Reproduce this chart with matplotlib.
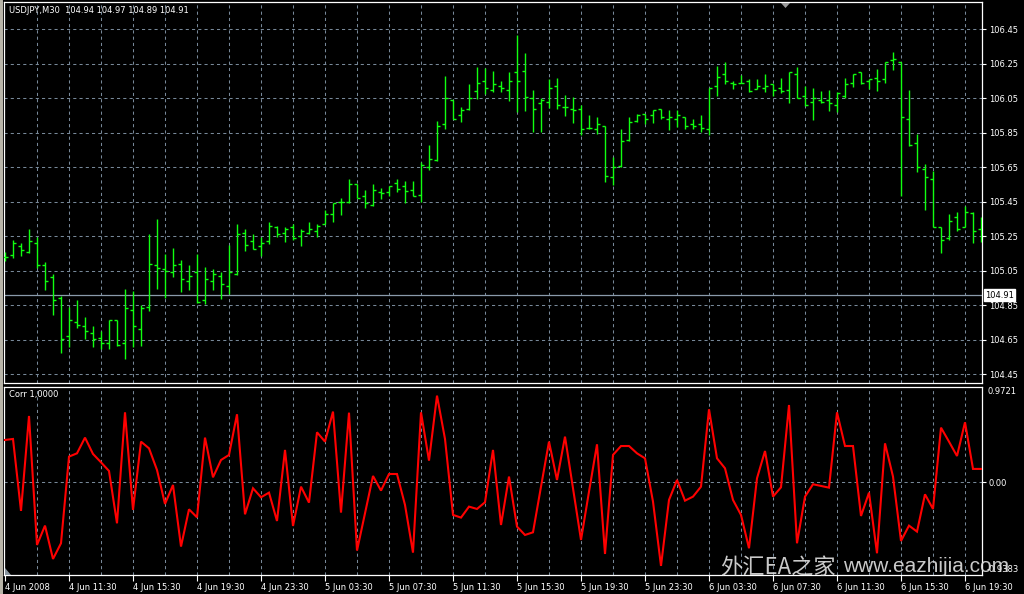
import matplotlib
matplotlib.use("Agg")
import matplotlib.pyplot as plt
from matplotlib.patches import Rectangle, Polygon
import numpy as np

# ---------------- data ----------------
opens = [105.130, 105.139, 105.195, 105.156, 105.208, 105.081, 105.011, 104.891, 104.670, 104.750,
         104.729, 104.686, 104.657, 104.628, 104.766, 104.628, 104.819, 104.709, 104.837, 105.081,
         105.057, 105.040, 105.086, 104.990, 105.040, 104.877, 104.990, 105.017, 104.959, 105.028,
         105.266, 105.220, 105.191, 105.220, 105.301, 105.266, 105.301, 105.249, 105.266, 105.278,
         105.318, 105.376, 105.446, 105.446, 105.551, 105.483, 105.431, 105.508, 105.508, 105.556,
         105.541, 105.516, 105.489, 105.649, 105.690, 105.899, 106.040, 105.951, 105.986, 106.092,
         106.148, 106.096, 106.119, 106.096, 106.200, 106.206, 106.050, 106.021, 106.026, 106.119,
         105.997, 105.986, 105.986, 105.876, 105.870, 105.887, 105.591, 105.659, 105.806, 105.916,
         105.957, 105.951, 105.988, 105.928, 105.928, 105.939, 105.899, 105.899, 105.870, 106.119,
         106.191, 106.139, 106.137, 106.148, 106.106, 106.108, 106.131, 106.108, 106.096, 106.189,
         106.065, 106.026, 106.038, 106.038, 106.009, 106.061, 106.139, 106.200, 106.148, 106.166,
         106.160, 106.270, 106.259, 105.928, 105.788, 105.638, 105.580, 105.305, 105.237, 105.359,
         105.301, 105.386, 105.289]
highs = [105.156, 105.228, 105.208, 105.291, 105.243, 105.098, 105.028, 104.903, 104.837, 104.879,
         104.781, 104.729, 104.700, 104.766, 104.766, 104.943, 104.932, 104.850, 105.260, 105.347,
         105.144, 105.181, 105.112, 105.082, 105.144, 105.069, 105.059, 105.040, 105.200, 105.320,
         105.291, 105.260, 105.247, 105.332, 105.309, 105.303, 105.318, 105.289, 105.332, 105.318,
         105.402, 105.442, 105.471, 105.580, 105.554, 105.518, 105.553, 105.527, 105.543, 105.580,
         105.568, 105.568, 105.678, 105.777, 105.916, 106.179, 106.040, 105.997, 106.133, 106.231,
         106.224, 106.208, 106.150, 106.202, 106.417, 106.313, 106.098, 106.050, 106.160, 106.166,
         106.067, 106.055, 106.009, 105.951, 105.939, 105.887, 105.709, 105.872, 105.939, 105.957,
         105.957, 105.980, 105.988, 105.982, 105.982, 105.939, 105.930, 105.953, 106.112, 106.235,
         106.259, 106.150, 106.187, 106.160, 106.160, 106.191, 106.133, 106.166, 106.200, 106.231,
         106.119, 106.108, 106.092, 106.098, 106.084, 106.166, 106.189, 106.204, 106.162, 106.218,
         106.259, 106.317, 106.259, 106.098, 105.845, 105.669, 105.630, 105.305, 105.376, 105.388,
         105.423, 105.388, 105.361]
lows = [105.108, 105.125, 105.137, 105.150, 105.063, 104.937, 104.792, 104.570, 104.609, 104.717,
        104.653, 104.609, 104.597, 104.597, 104.614, 104.539, 104.609, 104.614, 104.818, 104.941,
        104.889, 105.015, 104.928, 104.937, 104.860, 104.856, 104.937, 104.887, 104.916, 105.026,
        105.166, 105.177, 105.137, 105.206, 105.247, 105.218, 105.226, 105.195, 105.260, 105.247,
        105.318, 105.334, 105.373, 105.440, 105.469, 105.415, 105.427, 105.467, 105.485, 105.508,
        105.444, 105.481, 105.450, 105.636, 105.688, 105.872, 105.928, 105.914, 105.980, 106.048,
        106.073, 106.088, 106.088, 106.036, 105.968, 105.978, 105.856, 105.856, 105.995, 105.986,
        105.949, 105.908, 105.837, 105.874, 105.845, 105.566, 105.549, 105.649, 105.804, 105.910,
        105.901, 105.908, 105.928, 105.866, 105.885, 105.872, 105.872, 105.856, 105.837, 106.063,
        106.135, 106.104, 106.137, 106.088, 106.104, 106.088, 106.065, 106.079, 106.024, 106.052,
        106.005, 105.926, 106.021, 105.978, 105.968, 106.050, 106.117, 106.131, 106.106, 106.094,
        106.137, 106.216, 105.483, 105.775, 105.624, 105.404, 105.303, 105.150, 105.226, 105.278,
        105.301, 105.208, 105.218]
closes = [105.127, 105.208, 105.168, 105.220, 105.084, 104.988, 104.877, 104.655, 104.761, 104.736,
          104.698, 104.651, 104.628, 104.763, 104.616, 104.831, 104.729, 104.831, 105.086, 105.063,
          105.050, 105.081, 105.001, 105.017, 104.866, 105.001, 105.030, 104.970, 105.040, 105.260,
          105.197, 105.177, 105.210, 105.307, 105.260, 105.289, 105.237, 105.280, 105.289, 105.307,
          105.376, 105.442, 105.446, 105.554, 105.469, 105.444, 105.516, 105.498, 105.541, 105.525,
          105.510, 105.481, 105.661, 105.696, 105.887, 106.050, 105.928, 105.982, 106.053, 106.139,
          106.108, 106.133, 106.108, 106.148, 106.148, 106.055, 105.986, 106.040, 106.108, 106.009,
          105.997, 105.980, 105.870, 105.876, 105.899, 105.597, 105.649, 105.800, 105.910, 105.953,
          105.928, 105.980, 105.939, 105.939, 105.951, 105.887, 105.887, 105.876, 106.108, 106.175,
          106.148, 106.131, 106.137, 106.094, 106.119, 106.119, 106.096, 106.090, 106.200, 106.052,
          106.009, 106.050, 106.026, 106.021, 106.079, 106.133, 106.189, 106.137, 106.162, 106.148,
          106.259, 106.276, 105.939, 105.777, 105.651, 105.593, 105.303, 105.226, 105.336, 105.291,
          105.388, 105.280, 105.250]
corr = [0.475, 0.486, -0.321, 0.744, -0.703, -0.486, -0.860, -0.684, 0.288, 0.325,
        0.501, 0.318, 0.224, 0.127, -0.460, 0.785, -0.310, 0.456, 0.381, 0.138,
        -0.243, -0.030, -0.721, -0.303, -0.393, 0.501, 0.056, 0.250, 0.307, 0.763,
        -0.359, -0.067, -0.168, -0.116, -0.434, 0.363, -0.490, -0.049, -0.228, 0.561,
        0.456, 0.793, -0.340, 0.781, -0.766, -0.348, 0.071, -0.093, 0.093, 0.093,
        -0.254, -0.789, 0.785, 0.243, 0.9721, 0.486, -0.366, -0.396, -0.273, -0.299,
        -0.224, 0.363, -0.479, 0.064, -0.497, -0.591, -0.561, -0.049, 0.456, 0.026,
        0.512, -0.067, -0.647, -0.105, 0.426, -0.804, 0.307, 0.407, 0.407, 0.325,
        0.269, -0.217, -0.938, -0.198, 0.026, -0.206, -0.161, -0.049, 0.819, 0.269,
        0.157, -0.198, -0.366, -0.740, 0.045, 0.351, -0.161, -0.056, 0.867, -0.684,
        -0.161, -0.022, -0.041, -0.060, 0.785, 0.407, 0.407, -0.378, -0.116, -0.796,
        0.437, 0.064, -0.658, -0.486, -0.553, -0.135, -0.299, 0.613, 0.456, 0.295,
        0.673, 0.150, 0.150]
time_labels = ["4 Jun 2008", "4 Jun 11:30", "4 Jun 15:30", "4 Jun 19:30", "4 Jun 23:30",
               "5 Jun 03:30", "5 Jun 07:30", "5 Jun 11:30", "5 Jun 15:30", "5 Jun 19:30",
               "5 Jun 23:30", "6 Jun 03:30", "6 Jun 07:30", "6 Jun 11:30", "6 Jun 15:30",
               "6 Jun 19:30"]
price_ticks = [106.45, 106.25, 106.05, 105.85, 105.65, 105.45, 105.25, 105.05, 104.85, 104.65, 104.45]
last_price = 104.91
header = "USDJPY,M30  104.94 104.97 104.89 104.91"
ind_name = "Corr 1,0000"
ind_max_label = "0.9721"
ind_min_label = "-0.9383"
watermark_cn = "外汇EA之家"
watermark_url = "www.eazhijia.com"

# ---------------- style ----------------
W, H = 1024, 594
BG = "#000000"
GREEN = "#10ff10"
GRID = "#778899"
FS = 6

plt.rcParams["font.family"] = ["DejaVu Sans"]
fig = plt.figure(figsize=(W / 100, H / 100), dpi=100, facecolor=BG)

ax1 = fig.add_axes([4 / W, 1 - 383 / H, 978 / W, 381 / H], facecolor=BG)
ax2 = fig.add_axes([4 / W, 1 - 575 / H, 978 / W, 188 / H], facecolor=BG)

n = len(opens)
idx = np.arange(n)
xlim = (-0.125, n - 1 + 0.125)

# ---- grids ----
for i in range(4, n, 4):
    ax1.axvline(i, color=GRID, lw=0.75, ls=(0, (3, 3)), zorder=1)
    ax2.axvline(i, color=GRID, lw=0.75, ls=(0, (3, 3)), zorder=1)
for p in price_ticks:
    ax1.axhline(p, color=GRID, lw=0.75, ls=(0, (3, 3)), zorder=1)
ax1.axhline(last_price, color="#8a9aaa", lw=0.9, zorder=1)

# ---- OHLC bars ----
tick = 0.375
BLW = 1.0
ax1.vlines(idx, lows, highs, color=GREEN, lw=BLW, zorder=3)
ax1.hlines(opens, idx - tick, idx, color=GREEN, lw=BLW, zorder=3)
ax1.hlines(closes, idx, idx + tick, color=GREEN, lw=BLW, zorder=3)

ax1.set_xlim(*xlim)
ax1.set_ylim(104.398, 106.608)
ax1.set_xticks([])
ax1.yaxis.tick_right()
ax1.set_yticks(price_ticks)
ax1.set_yticklabels([f"{p:.2f}" for p in price_ticks])
ax1.tick_params(axis="y", colors="white", length=3, width=0.8, pad=2, labelsize=FS)

# ---- indicator panel ----
ax2.axhline(0, color=GRID, lw=0.75, ls=(0, (3, 3)), zorder=1)
ax2.plot(idx, corr, color="#ff0000", lw=1.5, zorder=3, solid_joinstyle="miter")
ax2.set_xlim(*xlim)
ax2.set_ylim(-1.040, 1.069)
ax2.yaxis.tick_right()
ax2.set_yticks([0])
ax2.set_yticklabels(["0.00"])
ax2.tick_params(axis="y", colors="white", length=3, width=0.8, pad=2, labelsize=FS)
ax2.set_xticks(np.arange(0, n, 8))
ax2.set_xticklabels(time_labels, ha="left")
ax2.tick_params(axis="x", colors="white", length=4, width=0.8, pad=1.5, labelsize=FS)

for ax in (ax1, ax2):
    for s in ax.spines.values():
        s.set_color("white")
        s.set_linewidth(0.9)

# ---- texts ----
fig.text(9 / W, 1 - 10.5 / H, header, color="white", fontsize=FS, va="center", ha="left")
fig.text(9 / W, 1 - 395 / H, ind_name, color="white", fontsize=FS, va="center", ha="left")
fig.text(987 / W, 1 - 392 / H, ind_max_label, color="white", fontsize=FS, va="center", ha="left")
fig.text(987 / W, 1 - 569 / H, ind_min_label, color="white", fontsize=FS, va="center", ha="left")
fig.text(985 / W, 1 - 295 / H, f"{last_price:.2f}", color="black", fontsize=FS, va="center", ha="left",
         bbox=dict(facecolor="white", edgecolor="white", boxstyle="square,pad=0.15"))

# chart shift marker and window frame
fig.patches.append(Polygon([[781 / W, 1 - 3 / H], [790 / W, 1 - 3 / H], [785.5 / W, 1 - 8 / H]],
                           closed=True, transform=fig.transFigure, facecolor="#9a9a9a", edgecolor="none"))
fig.patches.append(Polygon([[5 / W, 1 - 568 / H], [5 / W, 1 - 575 / H], [11 / W, 1 - 575 / H]],
                           closed=True, transform=fig.transFigure, facecolor="#8a96a0", edgecolor="none"))
fig.patches.append(Rectangle((0, 0), 2.5 / W, 1, transform=fig.transFigure, facecolor="#b8b4a8", edgecolor="none"))

# watermark
fig.text(720 / W, 1 - 567 / H, watermark_cn, color="#e0e0e0", alpha=0.9, fontsize=16,
         va="center", ha="left", family=["Noto Sans CJK SC", "DejaVu Sans"], zorder=10)
fig.text(843 / W, 1 - 567 / H, watermark_url, color="#e0e0e0", alpha=0.9, fontsize=15,
         va="center", ha="left", family=["Liberation Sans", "DejaVu Sans"], zorder=10)

fig.savefig("out.png", dpi=100, facecolor=BG)
